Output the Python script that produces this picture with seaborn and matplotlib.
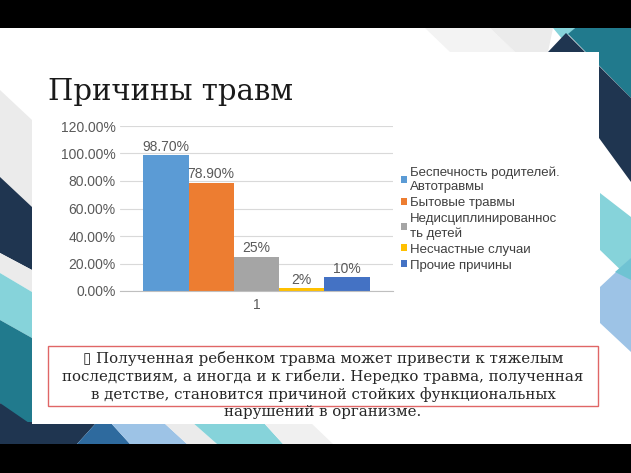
import pandas as pd
import seaborn as sns
import matplotlib.pyplot as plt
from matplotlib.patches import Polygon, Rectangle

# chart data
causes = [
    "Беспечность родителей.\nАвтотравмы",
    "Бытовые травмы",
    "Недисциплинированнос\nть детей",
    "Несчастные случаи",
    "Прочие причины",
]
shares = [0.987, 0.789, 0.25, 0.02, 0.10]
value_labels = ["98.70%", "78.90%", "25%", "2%", "10%"]
group = ["1"] * 5
colors = ["#5B9BD5", "#ED7D31", "#A5A5A5", "#FFC000", "#4472C4"]
y_ticks = [0, 0.2, 0.4, 0.6, 0.8, 1.0, 1.2]
y_tick_labels = ["0.00%", "20.00%", "40.00%", "60.00%", "80.00%", "100.00%", "120.00%"]

title = "Причины травм"
note = ("\u25af Полученная ребенком травма может привести к тяжелым\n"
        "последствиям, а иногда и к гибели. Нередко травма, полученная\n"
        "в детстве, становится причиной стойких функциональных\n"
        "нарушений в организме.")

sns.set_style("white")
plt.rcParams['font.family'] = ['Liberation Sans', 'DejaVu Sans']

fig = plt.figure(figsize=(6.31, 4.73), dpi=100)

# slide background (pixel coordinates)
bg = fig.add_axes([0, 0, 1, 1])
bg.set_xlim(0, 631)
bg.set_ylim(473, 0)
bg.axis('off')

navy, teal, lteal, lblue, blue, lgray = "#1F3550", "#217A8D", "#86D3DA", "#9DC3E6", "#2E6A9E", "#EBEBEB"
shapes = [
    # top right
    ([(425, 28), (490, 28), (515, 52), (450, 52)], "#F3F3F3"),
    ([(490, 28), (553, 28), (548, 52), (515, 52)], lgray),
    ([(553, 28), (575, 28), (563, 40)], lteal),
    ([(575, 28), (631, 28), (631, 98), (568, 34)], teal),
    ([(548, 52), (566, 33), (631, 98), (631, 182), (599, 138), (599, 52)], navy),
    ([(600, 193), (631, 217), (631, 280), (600, 250)], lteal),
    ([(600, 287), (631, 258), (631, 352), (600, 323)], lblue),
    ([(615, 272), (631, 258), (631, 280)], "#6FC3D3"),
    # left side
    ([(0, 90), (32, 120), (32, 210), (0, 180)], lgray),
    ([(0, 177), (32, 207), (32, 270), (0, 253)], navy),
    ([(0, 253), (32, 270), (32, 292), (0, 273)], lgray),
    ([(0, 273), (32, 292), (32, 338), (0, 320)], lteal),
    ([(0, 320), (32, 338), (32, 443), (0, 403)], teal),
    ([(0, 403), (32, 425), (32, 443), (0, 443)], navy),
    # bottom strip
    ([(0, 422), (97, 422), (77, 444), (0, 444)], navy),
    ([(97, 422), (110, 422), (130, 444), (77, 444)], blue),
    ([(110, 422), (163, 422), (187, 444), (130, 444)], lblue),
    ([(163, 422), (192, 422), (217, 444), (187, 444)], lgray),
    ([(192, 422), (263, 422), (283, 444), (217, 444)], lteal),
    ([(263, 422), (310, 422), (333, 444), (283, 444)], "#F0F0F0"),
]
for pts, c in shapes:
    bg.add_patch(Polygon(pts, closed=True, color=c, lw=0, zorder=1))

bg.add_patch(Rectangle((32, 52), 567, 372, color="white", lw=0, zorder=2))
bg.add_patch(Rectangle((0, 0), 631, 28, color="black", lw=0, zorder=5))
bg.add_patch(Rectangle((0, 444), 631, 29, color="black", lw=0, zorder=5))

bg.text(48, 100, title, fontsize=21, family='DejaVu Serif', va='baseline',
        color='#1a1a1a', zorder=3)
bg.add_patch(Rectangle((48, 346), 550, 60, fill=False, ec="#E06666", lw=1, zorder=3))
bg.text(323, 385, note, ha='center', va='center', fontsize=10.8,
        family=['DejaVu Serif', 'DejaVu Sans'], linespacing=1.25,
        color='#262626', zorder=3)

# bar chart
ax = fig.add_axes([120 / 631, 182 / 473, 273 / 631, 165 / 473])
ax.patch.set_alpha(0)
df = pd.DataFrame({'group': group, 'cause': causes, 'share': shares})
sns.barplot(data=df, x='group', y='share', hue='cause', palette=colors,
            width=0.83, saturation=1, edgecolor='none', linewidth=0, ax=ax)

for container, lbl in zip(ax.containers, value_labels):
    ax.bar_label(container, labels=[lbl], padding=1, fontsize=10, color='#595959')

ax.set_xlim(-0.5, 0.5)
ax.set_ylim(0, 1.2)
ax.set_yticks(y_ticks)
ax.set_yticklabels(y_tick_labels)
ax.yaxis.grid(True, color='#D9D9D9', lw=0.8)
ax.set_axisbelow(True)
for s in ['left', 'top', 'right']:
    ax.spines[s].set_visible(False)
ax.spines['bottom'].set_color('#BFBFBF')
ax.tick_params(axis='y', length=0, pad=3, labelsize=10, labelcolor='#595959')
ax.tick_params(axis='x', length=0, pad=5, labelsize=10, labelcolor='#595959')
ax.set_xlabel('')
ax.set_ylabel('')

handles, labels = ax.get_legend_handles_labels()
ax.get_legend().remove()
fig.legend(handles, labels, loc='upper left', bbox_to_anchor=(401 / 631, 1 - 167 / 473),
           frameon=False, fontsize=9.5, handlelength=0.45, handleheight=0.45,
           handletextpad=0.25, labelspacing=0.3, borderaxespad=0, borderpad=0,
           labelcolor='#404040')

fig.savefig('out.png', dpi=100)
